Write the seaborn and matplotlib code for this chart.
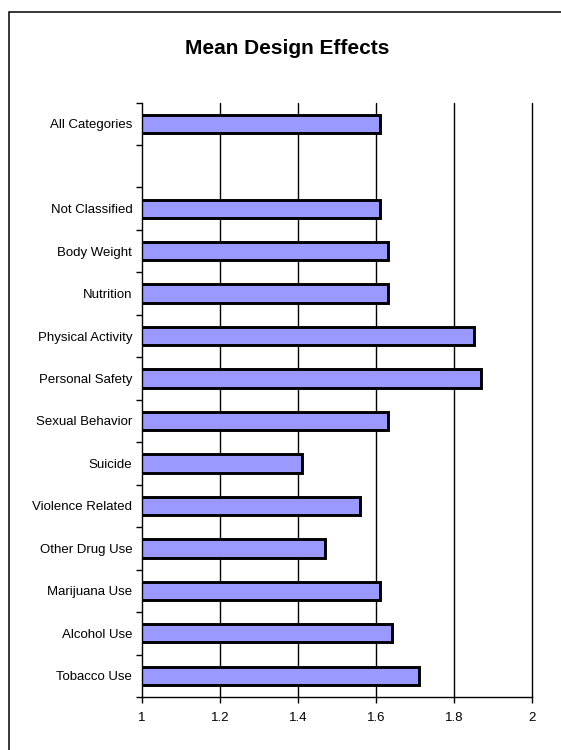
import matplotlib
matplotlib.use("Agg")
import matplotlib.pyplot as plt
import matplotlib.patches as mpatches
import numpy as np
import pandas as pd
import seaborn as sns

# Mean design effect per question category
categories = [
    "All Categories", "Not Classified", "Body Weight", "Nutrition",
    "Physical Activity", "Personal Safety", "Sexual Behavior", "Suicide",
    "Violence Related", "Other Drug Use", "Marijuana Use", "Alcohol Use",
    "Tobacco Use",
]
design_effects = [1.61, 1.61, 1.63, 1.63, 1.85, 1.87, 1.63, 1.41, 1.56, 1.47, 1.61, 1.64, 1.71]

# display order: a blank slot separates the overall value from the categories
order = ["All Categories", " "] + categories[1:]

x_ticks = [1, 1.2, 1.4, 1.6, 1.8, 2]
x_tick_labels = ["1", "1.2", "1.4", "1.6", "1.8", "2"]

df = pd.DataFrame({"category": categories, "deff": design_effects})

sns.set_theme(style="white")
plt.rcParams["font.family"] = ["Liberation Sans", "DejaVu Sans"]

fig = plt.figure(figsize=(5.61, 7.5), dpi=100)
ax = fig.add_axes([142 / 561, 1 - 697 / 750, 390 / 561, (697 - 102.5) / 750])

sns.barplot(data=df, y="category", x="deff", order=order, orient="h",
            color="#9999FF", saturation=1, width=0.43,
            edgecolor="black", linewidth=2.1, ax=ax, zorder=3)

ax.set_xlim(1, 2)
ax.set_ylim(len(order) - 0.5, -0.5)
ax.set_xticks(x_ticks)
ax.set_xticklabels(x_tick_labels, fontsize=9.5, color="black")
ax.set_xlabel("")
ax.set_ylabel("")
ax.tick_params(axis="y", which="major", length=0, pad=7, labelsize=9.5, labelcolor="black")
ax.tick_params(axis="x", which="major", length=4, width=1, pad=7, direction="out",
               color="black", bottom=True)
ax.set_yticks(np.arange(-0.5, len(order), 1.0), minor=True)
ax.tick_params(axis="y", which="minor", length=4, width=1, direction="out",
               color="black", left=True)

# vertical gridlines
for xv in x_ticks[1:]:
    ax.axvline(xv, color="black", lw=1.0, zorder=1, clip_on=False)

for side in ["top", "right"]:
    ax.spines[side].set_visible(False)
for side in ["left", "bottom"]:
    ax.spines[side].set_color("black")
    ax.spines[side].set_linewidth(1.0)
    ax.spines[side].set_zorder(4)

fig.text(287 / 561, 1 - 49 / 750, "Mean Design Effects", ha="center", va="center",
         fontsize=15, fontweight="bold", color="black")

# chart frame
frame = mpatches.Rectangle((9 / 561, -0.1), 2, 1 - 12 / 750 + 0.1,
                           transform=fig.transFigure, fill=False,
                           edgecolor="black", lw=1.1, clip_on=False)
fig.patches.append(frame)

fig.savefig("out.png", dpi=100, facecolor="white")
